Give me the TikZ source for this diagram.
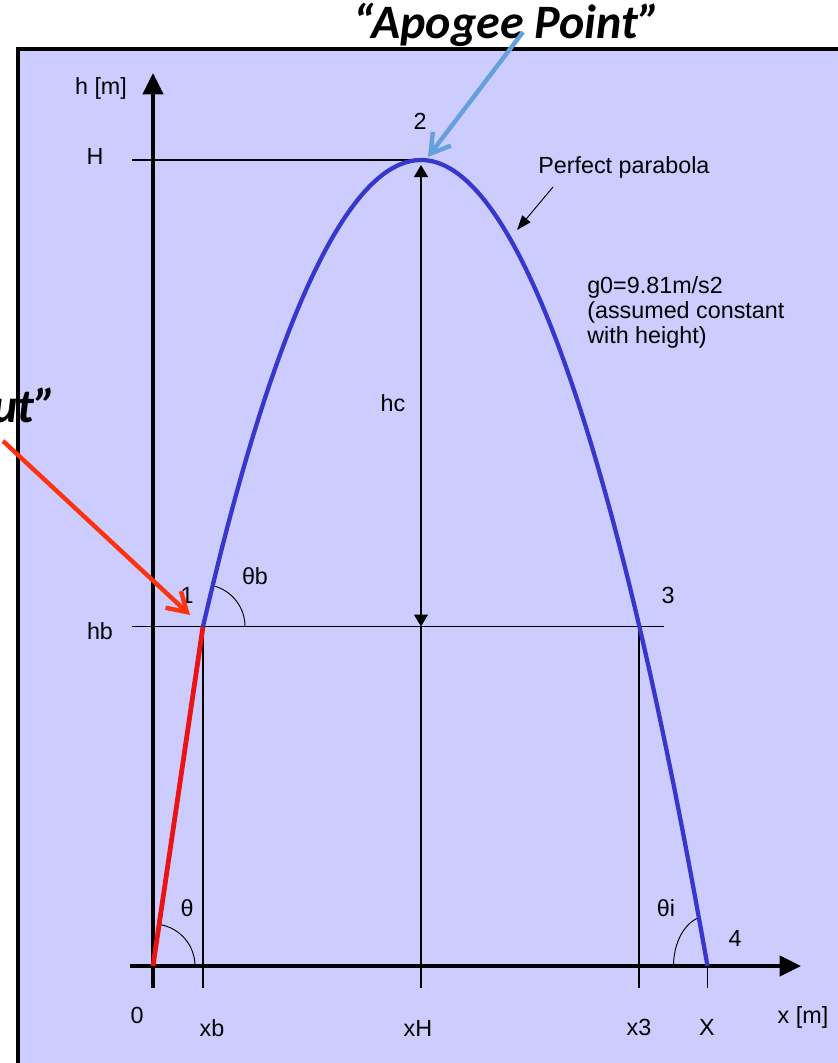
\documentclass[tikz,border=0pt]{standalone}
\usepackage{fontspec}
\setmainfont{Liberation Sans}
\newfontfamily\calloutfont{Carlito}
\usepackage{xcolor}
\usepackage{tikz}
\usetikzlibrary{arrows.meta}

\definecolor{panelbg}{RGB}{204,204,255}
\definecolor{trajblue}{RGB}{55,55,205}
\definecolor{burnred}{RGB}{235,20,20}
\definecolor{callred}{RGB}{255,50,15}
\definecolor{callblue}{RGB}{100,160,220}

\begin{document}
\begin{tikzpicture}[
    x=0.75pt, y=-0.75pt,
    lbl/.style={font=\fontsize{17.5}{18.75}\selectfont, inner sep=0pt},
    callout/.style={font=\calloutfont\bfseries\itshape\fontsize{36}{40}\selectfont, inner sep=0pt},
    guide/.style={line width=0.8pt},
    anglearc/.style={line width=0.7pt},
    axis/.style={line width=3pt, -{Triangle[length=16pt, width=15pt]}},
    traj/.style={line width=3.2pt, trajblue},
    burn/.style={line width=3.6pt, burnred},
    dimarr/.style={line width=0.8pt, {Triangle[length=9pt, width=10.5pt]}-{Triangle[length=9pt, width=10.5pt]}},
    ptr/.style={line width=0.7pt, -{Triangle[length=11pt, width=8pt]}},
    callarr/.style={line width=3pt, -{Straight Barb[length=14pt, width=17pt]}},
]
\useasboundingbox (0,0) rectangle (838,1063);

% Panel
\draw[line width=2.7pt, fill=panelbg] (18,49) rectangle (880,1100);

% Key points of the flight
\coordinate (O) at (153,966);
\coordinate (pt1) at (203,626.5);
\coordinate (apex) at (421,160);
\coordinate (pt3) at (639,626.5);
\coordinate (pt4) at (707.5,966);

\coordinate (Hleft) at (132,160);
\coordinate (hbleft) at (132,626.5);
\coordinate (hbright) at (664,626.5);
\coordinate (hbmid) at (421,626.5);
\coordinate (xbfoot) at (203,988);
\coordinate (xHfoot) at (421,988);
\coordinate (x3foot) at (639,988);
\coordinate (Xfoot) at (707.5,988);
\coordinate (xstart) at (130,966);
\coordinate (xend) at (801,966);
\coordinate (ystart) at (153,988);
\coordinate (yend) at (153,73);

% Guide lines
\draw[guide] (Hleft) -- (apex);
\draw[guide] (hbleft) -- (hbright);
\draw[guide] (pt1) -- (xbfoot);
\draw[guide] (pt3) -- (x3foot);
\draw[guide] (hbmid) -- (xHfoot);
\draw[guide] (pt4) -- (Xfoot);
\draw[dimarr, shorten <=3.75pt] (apex) -- (hbmid);

% Axes
\draw[axis] (ystart) -- (yend);
\draw[axis] (xstart) -- (xend);

% Angles
\draw[anglearc] (O) ++(42,0) arc[start angle=0, end angle=-80, radius=42];
\draw[anglearc] (pt1) ++(42,0) arc[start angle=0, end angle=-76, radius=42];
\draw[anglearc] (pt4) ++(-34,0) arc[start angle=180, end angle=256, x radius=34, y radius=50];

% Trajectory
\draw[burn] (O) -- (pt1);
\draw[traj] (pt1) parabola bend (apex) (pt4);

% Labels
\node[lbl] (hlbl) at (101,88) {h [m]};
\node[lbl] (Hlbl) at (95,156) {H};
\node[lbl] (hblbl) at (100,631) {hb};
\node[lbl] (hclbl) at (393,403) {hc};
\node[lbl] (lbl1) at (187,595) {1};
\node[lbl] (lbl2) at (420,121) {2};
\node[lbl] (lbl3) at (668,595) {3};
\node[lbl] (lbl4) at (735,938) {4};
\node[lbl] (thblbl) at (255,576) {θb};
\node[lbl] (thlbl) at (187,908) {θ};
\node[lbl] (thilbl) at (666,908) {θi};
\node[lbl] (zerolbl) at (137,1015) {0};
\node[lbl] (xblbl) at (212,1028) {xb};
\node[lbl] (xHlbl) at (418,1028) {xH};
\node[lbl] (x3lbl) at (639,1027) {x3};
\node[lbl] (Xlbl) at (707,1027) {X};
\node[lbl] (xlbl) at (803,1017) {x [m]};
\node[lbl, anchor=base west] (paralbl) at (538,173) {Perfect parabola};
\node[lbl, anchor=north west, align=left] (glbl) at (587,276) {g0=9.81m/s2\\(assumed constant\\with height)};

\coordinate (paratail) at (553,187);
\coordinate (paratip) at (517,230);
\draw[ptr] (paratail) -- (paratip);

% Callouts
\node[callout, anchor=base] (apogee) at (507,39) {“Apogee Point”};
\node[callout, anchor=base east] (burnout) at (57,422) {ut”};
\coordinate (apotail) at (523,32);
\coordinate (apotip) at (428,157);
\draw[callarr, callblue, line width=3.3pt] (apotail) -- (apotip);
\coordinate (burntail) at (3,441);
\coordinate (burntip) at (190,615);
\draw[callarr, callred, line width=3.3pt] (burntail) -- (burntip);

\end{tikzpicture}
\end{document}
